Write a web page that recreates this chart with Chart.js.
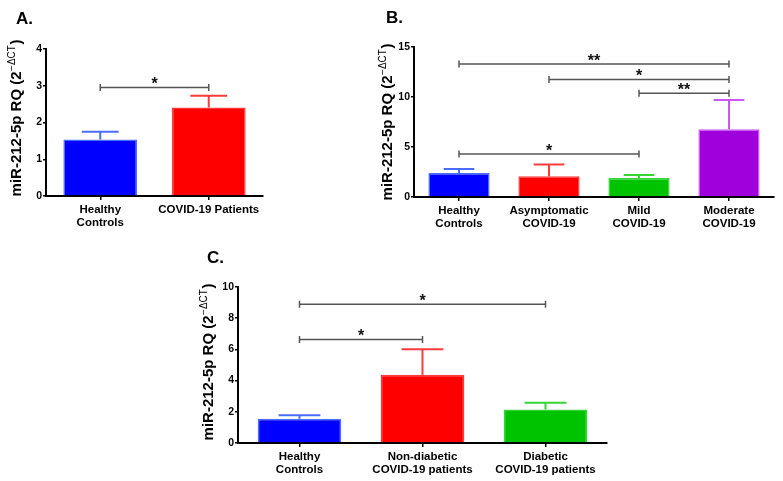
<!DOCTYPE html>
<html>
<head>
<meta charset="utf-8">
<script src="https://cdn.jsdelivr.net/npm/chart.js@4/dist/chart.umd.min.js"></script>
<style>
  html, body { margin: 0; padding: 0; background: #fff; }
  body { width: 783px; height: 481px; position: relative; overflow: hidden; }
  .panel { position: absolute; }
</style>
</head>
<body>
<div class="panel" style="left:0px;top:0px;"><canvas id="cA" width="280" height="240"></canvas></div>
<div class="panel" style="left:340px;top:0px;"><canvas id="cB" width="443" height="240"></canvas></div>
<div class="panel" style="left:170px;top:240px;"><canvas id="cC" width="460" height="241"></canvas></div>
<script>
// ---------- DATA ----------
// Panel A
const labelsA = [['Healthy', 'Controls'], 'COVID-19 Patients'];
const valuesA = [1.54, 2.41];
const errorsA = [0.21, 0.32];
const ticksA = { max: 4, step: 1 };
const bracketsA = [[0, 1, 2.95, '*']];

// Panel B
const labelsB = [['Healthy', 'Controls'], ['Asymptomatic', 'COVID-19'], ['Mild', 'COVID-19'], ['Moderate', 'COVID-19']];
const valuesB = [2.41, 2.08, 1.91, 6.77];
const errorsB = [0.40, 1.17, 0.30, 2.94];
const ticksB = { max: 15, step: 5 };
const bracketsB = [[0, 3, 13.3, '**'], [1, 3, 11.75, '*'], [2, 3, 10.38, '**'], [0, 2, 4.29, '*']];

// Panel C
const labelsC = [['Healthy', 'Controls'], ['Non-diabetic', 'COVID-19 patients'], ['Diabetic', 'COVID-19 patients']];
const valuesC = [1.55, 4.38, 2.15];
const errorsC = [0.23, 1.63, 0.43];
const ticksC = { max: 10, step: 2 };
const bracketsC = [[0, 2, 8.9, '*'], [0, 1, 6.63, '*']];

const panelLetters = ['A.', 'B.', 'C.'];

// ---------- STYLE ----------
const FONT = '"Liberation Sans", Arial, Helvetica, sans-serif';
const fills = { blue: '#0000ff', red: '#ff0000', green: '#00c300', purple: '#a000dc' };
const edges = { blue: '#4a6cff', red: '#ff3a3a', green: '#33d633', purple: '#cc55ff' };

function makeChart(id, cfg) {
  const ca = cfg.area; // desired chart area in canvas px
  const canvas = document.getElementById(id);
  const W = canvas.width, H = canvas.height;

  const overlay = {
    id: 'overlay' + id,
    afterDatasetsDraw(chart) {
      const ctx = chart.ctx;
      const ys = chart.scales.y, xs = chart.scales.x;
      const meta = chart.getDatasetMeta(0);
      // error bars (upper only)
      ctx.save();
      ctx.lineWidth = 2;
      meta.data.forEach((bar, i) => {
        const top = ys.getPixelForValue(cfg.values[i] + cfg.errors[i]);
        const y0 = ys.getPixelForValue(cfg.values[i]);
        const half = bar.width * 0.25;
        ctx.strokeStyle = cfg.edgeColors[i];
        ctx.beginPath();
        ctx.moveTo(bar.x, y0);
        ctx.lineTo(bar.x, top);
        ctx.moveTo(bar.x - half, top);
        ctx.lineTo(bar.x + half, top);
        ctx.stroke();
      });
      ctx.restore();
      // significance brackets
      ctx.save();
      cfg.brackets.forEach(([a, b, v, lab]) => {
        const x1 = xs.getPixelForValue(a), x2 = xs.getPixelForValue(b);
        const y = ys.getPixelForValue(v);
        ctx.strokeStyle = '#555555';
        ctx.lineWidth = 1.5;
        ctx.beginPath();
        ctx.moveTo(x1, y); ctx.lineTo(x2, y);
        ctx.moveTo(x1, y - 3.5); ctx.lineTo(x1, y + 3.5);
        ctx.moveTo(x2, y - 3.5); ctx.lineTo(x2, y + 3.5);
        ctx.stroke();
        ctx.fillStyle = '#111';
        ctx.font = 'bold 16px ' + FONT;
        ctx.textAlign = 'center';
        ctx.textBaseline = 'alphabetic';
        ctx.fillText(lab, (x1 + x2) / 2, y + 1.5);
      });
      ctx.restore();
    },
    afterDraw(chart) {
      const ctx = chart.ctx;
      // panel letter
      ctx.save();
      ctx.fillStyle = '#000';
      ctx.font = 'bold 17px ' + FONT;
      ctx.textAlign = 'left';
      ctx.textBaseline = 'middle';
      ctx.fillText(cfg.letter, cfg.letterPos[0], cfg.letterPos[1]);
      ctx.restore();
      // y-axis title with superscript
      ctx.save();
      ctx.translate(cfg.titlePos[0], cfg.titlePos[1]);
      ctx.rotate(-Math.PI / 2);
      ctx.fillStyle = '#000';
      ctx.textBaseline = 'middle';
      ctx.textAlign = 'left';
      const main = 'miR-212-5p RQ (2';
      const sup = '\u2212\u0394CT';
      const close = ')';
      const fMain = 'bold 15px ' + FONT;
      const fSup = '10px ' + FONT;
      ctx.font = fMain; const wMain = ctx.measureText(main).width; const wClose = ctx.measureText(close).width;
      ctx.font = fSup; const wSup = ctx.measureText(sup).width;
      const total = wMain + wSup + 1 + wClose;
      let x = -total / 2;
      ctx.font = fMain; ctx.fillText(main, x, 0); x += wMain;
      ctx.font = fSup; ctx.fillText(sup, x + 0.5, -5); x += wSup + 1;
      ctx.font = fMain; ctx.fillText(close, x, 0);
      ctx.restore();
    }
  };

  return new Chart(canvas, {
    type: 'bar',
    data: {
      labels: cfg.labels,
      datasets: [{
        data: cfg.values,
        backgroundColor: cfg.fillColors,
        borderColor: cfg.edgeColors,
        borderWidth: 1.5,
        barPercentage: 0.68,
        categoryPercentage: 1.0
      }]
    },
    options: {
      responsive: false,
      animation: false,
      devicePixelRatio: 1,
      layout: { padding: { left: 0, top: ca.top, right: W - ca.right, bottom: 0 } },
      plugins: { legend: { display: false }, tooltip: { enabled: false }, title: { display: false } },
      scales: {
        x: {
          offset: true,
          afterFit(s) { s.height = H - ca.bottom; },
          grid: { display: true, offset: false, drawOnChartArea: false, drawTicks: true, tickLength: 4, color: '#000', lineWidth: 1.5 },
          border: { display: true, color: '#000', width: 2 },
          ticks: { color: '#000', font: { family: FONT, size: 11.5, weight: 'bold', lineHeight: 1.15 }, padding: 3, maxRotation: 0, autoSkip: false }
        },
        y: {
          min: 0, max: cfg.ticks.max,
          afterFit(s) { s.width = ca.left; },
          grid: { display: true, drawOnChartArea: false, drawTicks: true, tickLength: 3, color: '#000', lineWidth: 1.5 },
          border: { display: true, color: '#000', width: 2 },
          ticks: { stepSize: cfg.ticks.step, color: '#000', font: { family: FONT, size: 10.5, weight: 'bold' }, padding: 1 }
        }
      }
    },
    plugins: [overlay]
  });
}

makeChart('cA', {
  labels: labelsA, values: valuesA, errors: errorsA, ticks: ticksA, brackets: bracketsA,
  fillColors: [fills.blue, fills.red], edgeColors: [edges.blue, edges.red],
  area: { left: 46, right: 263, top: 49, bottom: 196 },
  letter: panelLetters[0], letterPos: [16, 19], titlePos: [17, 118]
});
makeChart('cB', {
  labels: labelsB, values: valuesB, errors: errorsB, ticks: ticksB, brackets: bracketsB,
  fillColors: [fills.blue, fills.red, fills.green, fills.purple], edgeColors: [edges.blue, edges.red, edges.green, edges.purple],
  area: { left: 74, right: 434, top: 47, bottom: 197 },
  letter: panelLetters[1], letterPos: [46, 18], titlePos: [48, 122]
});
makeChart('cC', {
  labels: labelsC, values: valuesC, errors: errorsC, ticks: ticksC, brackets: bracketsC,
  fillColors: [fills.blue, fills.red, fills.green], edgeColors: [edges.blue, edges.red, edges.green],
  area: { left: 68, right: 437, top: 47, bottom: 203 },
  letter: panelLetters[2], letterPos: [37, 18], titlePos: [39, 122]
});
</script>
</body>
</html>
